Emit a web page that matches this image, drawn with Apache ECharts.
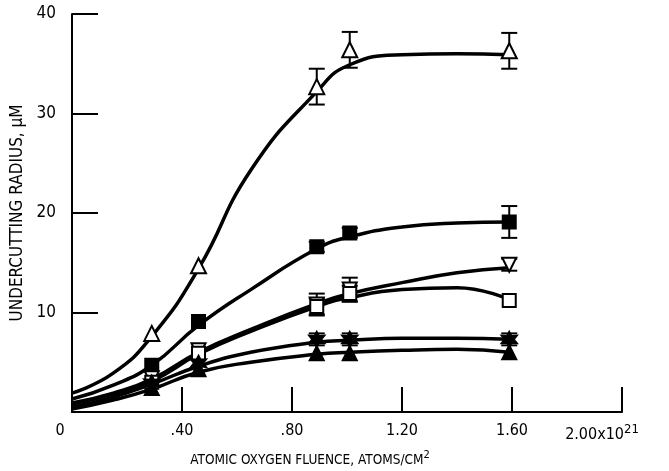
<!DOCTYPE html>
<html>
<head>
<meta charset="utf-8">
<script src="https://cdn.jsdelivr.net/npm/echarts@6/dist/echarts.min.js"></script>
<style>
html, body { margin: 0; padding: 0; background: #fff; }
#main { width: 669px; height: 471px; }
</style>
</head>
<body>
<div id="main"></div>
<script>
var FONT = '"DejaVu Sans Condensed", "Liberation Sans Narrow", sans-serif';

// fluence of the measured points (x10^21 atoms/cm2)
var fluence = [0.29, 0.46, 0.89, 1.01, 1.59];

// measured undercutting radius, um
var openUp = [7.9, 14.7, 32.7, 36.4, 36.3];
var filledSquare = [4.7, 9.1, 16.6, 18.0, 19.1];
var openDown = [3.4, 6.2, 10.8, 12.3, 14.8];
var openSquare = [3.0, 5.9, 10.6, 11.9, 11.2];
var filledStar = [2.9, 4.9, 7.3, 7.3, 7.3];
var filledUp = [2.4, 4.3, 5.9, 5.9, 6.0];

// half length of the error bars
var openUpErr = [0, 0, 1.8, 1.8, 1.8];
var filledSquareErr = [0, 0, 0.5, 0.5, 1.6];
var openDownErr = [0, 0, 1.1, 1.2, 0.6];
var openSquareErr = [0, 0, 0.8, 0.8, 0];
var filledStarErr = [0, 0, 0.6, 0.6, 0.6];
var filledUpErr = [0, 0, 0, 0, 0];

// fitted curves
var curveX = [0, 0.15, 0.29, 0.46, 0.65, 0.89, 1.01, 1.2, 1.4, 1.59];
var openUpCurve = [1.9, 3.9, 7.6, 14.4, 24.3, 32.2, 34.9, 35.9, 36.0, 35.9];
var filledSquareCurve = [1.3, 2.7, 4.7, 8.7, 12.3, 16.4, 17.6, 18.6, 19.0, 19.1];
var openDownCurve = [0.9, 1.9, 3.3, 6.0, 8.3, 10.9, 11.9, 13.0, 14.0, 14.5];
var openSquareCurve = [0.8, 1.8, 3.1, 5.8, 8.1, 10.6, 11.5, 12.3, 12.5, 11.3];
var filledStarCurve = [0.5, 1.5, 2.8, 4.6, 6.0, 7.0, 7.2, 7.4, 7.4, 7.3];
var filledUpCurve = [0.3, 1.2, 2.3, 4.0, 5.0, 5.8, 6.0, 6.2, 6.3, 6.0];

var xTicks = ['0', '.40', '.80', '1.20', '1.60', '2.00'];

var STAR = 'path://M0,-10 L2.6,-4.5 L8.7,-5 L5.2,0 L8.7,5 L2.6,4.5 L0,10 L-2.6,4.5 L-8.7,5 L-5.2,0 L-8.7,-5 L-2.6,-4.5 Z';

var sets = [
    { y: openUp, err: openUpErr, curve: openUpCurve, symbol: 'triangle', rotate: 0, fill: '#fff', size: 15 },
    { y: filledSquare, err: filledSquareErr, curve: filledSquareCurve, symbol: 'rect', rotate: 0, fill: '#000', size: 13 },
    { y: openDown, err: openDownErr, curve: openDownCurve, symbol: 'triangle', rotate: 180, fill: '#fff', size: 14 },
    { y: openSquare, err: openSquareErr, curve: openSquareCurve, symbol: 'rect', rotate: 0, fill: '#fff', size: 13 },
    { y: filledStar, err: filledStarErr, curve: filledStarCurve, symbol: STAR, rotate: 0, fill: '#000', size: 15 },
    { y: filledUp, err: filledUpErr, curve: filledUpCurve, symbol: 'triangle', rotate: 0, fill: '#000', size: 14 }
];

function zip(xs, ys) {
    return xs.map(function (x, i) { return [x, ys[i]]; });
}

function renderErr(params, api) {
    var x = api.value(0);
    var top = api.coord([x, api.value(2)]);
    var bot = api.coord([x, api.value(1)]);
    var w = 8;
    var style = { stroke: '#000', lineWidth: 2 };
    return {
        type: 'group',
        children: [
            { type: 'line', shape: { x1: top[0], y1: top[1], x2: bot[0], y2: bot[1] }, style: style },
            { type: 'line', shape: { x1: top[0] - w, y1: top[1], x2: top[0] + w, y2: top[1] }, style: style },
            { type: 'line', shape: { x1: bot[0] - w, y1: bot[1], x2: bot[0] + w, y2: bot[1] }, style: style }
        ]
    };
}

var series = [];

sets.forEach(function (s) {
    series.push({
        type: 'line',
        data: zip(curveX, s.curve),
        smooth: 0.5,
        showSymbol: false,
        lineStyle: { color: '#000', width: 3.5 },
        z: 2,
        silent: true
    });
});

sets.forEach(function (s) {
    var errData = [];
    fluence.forEach(function (x, i) {
        if (s.err[i] > 0)
            errData.push([x, s.y[i] - s.err[i], s.y[i] + s.err[i]]);
    });
    series.push({
        type: 'custom',
        renderItem: renderErr,
        data: errData,
        encode: { x: 0, y: [1, 2] },
        z: 3,
        silent: true
    });
});

sets.forEach(function (s) {
    series.push({
        type: 'scatter',
        data: zip(fluence, s.y),
        symbol: s.symbol,
        symbolRotate: s.rotate,
        symbolSize: s.size,
        itemStyle: { color: s.fill, borderColor: '#000', borderWidth: 2, opacity: 1 },
        z: 4,
        silent: true
    });
});

var myChart = echarts.init(document.querySelector('#main'));

var option = {
    animation: false,
    backgroundColor: '#fff',
    grid: {
        left: 72,
        right: 47,
        top: 14,
        bottom: 59,
        containLabel: false,
        outerBoundsMode: 'none'
    },
    xAxis: {
        type: 'value',
        min: 0,
        max: 2,
        interval: 0.4,
        name: '{t|ATOMIC OXYGEN FLUENCE, ATOMS/CM}{s|2}{p|}',
        nameLocation: 'middle',
        nameGap: 38,
        nameTextStyle: {
            rich: {
                t: { fontFamily: FONT, fontSize: 13.5, color: '#000' },
                s: { fontFamily: FONT, fontSize: 11, color: '#000', padding: [0, 0, 10, 0] },
                p: { width: 74 }
            }
        },
        axisLine: { show: true, lineStyle: { color: '#000', width: 2 } },
        axisTick: { show: true, inside: true, length: 25, lineStyle: { color: '#000', width: 2 } },
        splitLine: { show: false },
        axisLabel: {
            margin: 11,
            formatter: function (v) {
                var i = Math.round(v / 0.4);
                if (i === 0)
                    return '{a|' + xTicks[0] + '}{p|}';
                if (i === 5)
                    return '{a|' + xTicks[5] + 'x10}{s|21}{q|}';
                return '{a|' + xTicks[i] + '}';
            },
            rich: {
                a: { fontFamily: FONT, fontSize: 16, color: '#000' },
                s: { fontFamily: FONT, fontSize: 13, color: '#000', padding: [0, 0, 10, 0] },
                p: { width: 24 },
                q: { width: 40 }
            }
        }
    },
    yAxis: {
        type: 'value',
        min: 0,
        max: 40,
        interval: 10,
        name: 'UNDERCUTTING RADIUS, µM',
        nameLocation: 'middle',
        nameGap: 46,
        nameTextStyle: { fontFamily: FONT, fontSize: 17, color: '#000' },
        axisLine: { show: true, lineStyle: { color: '#000', width: 2 } },
        axisTick: { show: true, inside: true, length: 26, lineStyle: { color: '#000', width: 2 } },
        splitLine: { show: false },
        axisLabel: {
            margin: 16,
            fontFamily: FONT,
            fontSize: 17,
            color: '#000',
            formatter: function (v) {
                return v === 0 ? '' : String(v);
            }
        }
    },
    series: series
};

myChart.setOption(option);
</script>
</body>
</html>
